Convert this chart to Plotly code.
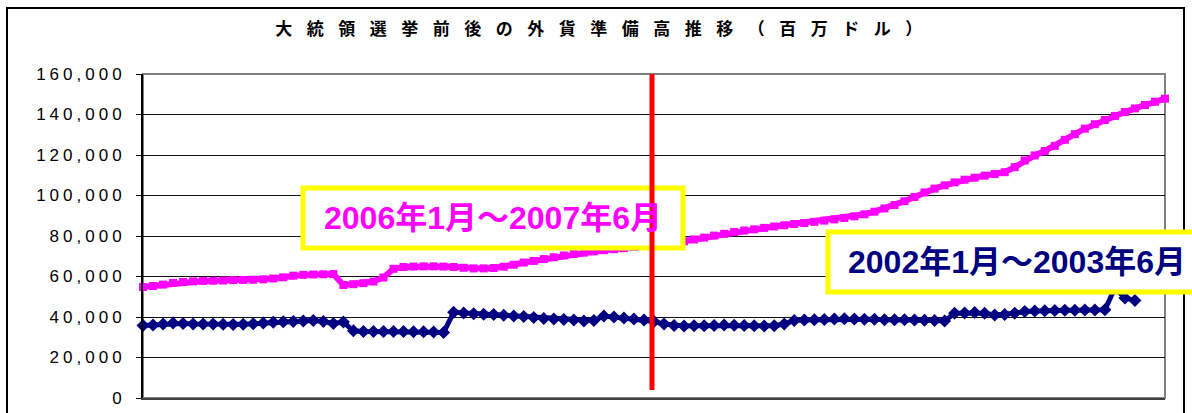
import plotly.graph_objects as go

# ---------------- data ----------------
title_text = "大統領選挙前後の外貨準備高推移（百万ドル）"
label_2006 = "2006年1月～2007年6月"
label_2002 = "2002年1月～2003年6月"

y_tick_values = [0, 20000, 40000, 60000, 80000, 100000, 120000, 140000, 160000]
y_tick_labels = ["0", "20,000", "40,000", "60,000", "80,000", "100,000",
                 "120,000", "140,000", "160,000"]

# 2006/01 - 2007/06 (magenta), millions of USD
reserves_2006_2007 = [
    54800, 55300, 56000, 56800, 57300, 57600, 57800, 57900, 58000, 58200,
    58300, 58400, 58600, 59000, 59600, 60400, 60800, 61000, 61100, 61200,
    55800, 56200, 56700, 57500, 59500, 63800, 64700, 64900, 65000, 65000,
    64900, 64700, 64300, 64000, 64000, 64200, 64800, 65800, 66900, 67700,
    68600, 69500, 70400, 71100, 71800, 72400, 73000, 73500, 74000, 74600,
    75100, 75700, 76200, 76700, 77400, 78300, 79200, 80200, 81100, 82000,
    82700, 83300, 84000, 84700, 85300, 85900, 86400, 87000, 87600, 88200,
    88900, 89700, 90700, 92000, 93600, 95300, 97200, 99300, 101500, 103400,
    105000, 106500, 107800, 108800, 109800, 110600, 111500, 114000, 117300, 119800,
    122000, 124500, 127500, 130300, 133000, 135200, 137300, 139300, 141200, 143000,
    144700, 146300, 147800,
]

# 2002/01 - 2003/06 (navy), millions of USD
reserves_2002_2003 = [
    35800, 36000, 36600, 37000, 36800, 36600, 36500, 36500, 36400, 36300,
    36400, 36700, 37000, 37400, 37600, 37800, 38000, 38300, 37800, 36800,
    37500, 33200, 32900, 32800, 32800, 32800, 32800, 32700, 32700, 32600,
    32300, 42300, 42000, 41600, 41300, 41200, 40900, 40500, 40200, 39800,
    39300, 39000, 38800, 38500, 38000, 38300, 40500, 40000, 39500, 39000,
    38500, 37800, 36500, 35800, 35600, 35700, 35700, 35800, 36000, 35900,
    35800, 35700, 35600, 35700, 36500, 38300, 38500, 38600, 38800, 39000,
    39100, 39000, 38900, 38900, 38700, 38700, 38600, 38500, 38400, 38300,
    38000, 41800, 42000, 42200, 41800, 41000, 41200, 41900, 42700, 43000,
    43100, 43200, 43300, 43300, 43400, 43500, 43600, 54300, 49400, 48200,
]

election_index = 50.8      # position of the election date on the shared time index
red_line_bottom = 4000     # value where the red marker line stops

# ---------------- layout helpers ----------------
W, H = 1192, 413
PL, PR, PT, PB = 143, 1165, 74, 398


def px_x(p):
    return (p - PL) / (PR - PL)


def px_y(p):
    return (PB - p) / (PB - PT)


x_2006 = list(range(len(reserves_2006_2007)))
x_2002 = list(range(len(reserves_2002_2003)))

fig = go.Figure()

fig.add_trace(go.Scatter(
    x=x_2002, y=reserves_2002_2003, mode="lines+markers",
    line=dict(color="#000080", width=5),
    marker=dict(symbol="diamond", size=10, color="#000080"),
    cliponaxis=False, hoverinfo="skip",
))
fig.add_trace(go.Scatter(
    x=x_2006, y=reserves_2006_2007, mode="lines+markers",
    line=dict(color="#FF00FF", width=6),
    marker=dict(symbol="square", size=8, color="#FF00FF"),
    cliponaxis=False, hoverinfo="skip",
))

shapes = [
    # outer chart frame
    dict(type="rect", xref="paper", yref="paper",
         x0=px_x(7), x1=px_x(1184), y0=px_y(440), y1=px_y(8),
         line=dict(color="black", width=2), fillcolor="rgba(0,0,0,0)", layer="below"),
    # plot-area border
    dict(type="rect", xref="paper", yref="paper", x0=0, x1=1, y0=0, y1=1,
         line=dict(color="#808080", width=2), fillcolor="rgba(0,0,0,0)", layer="below"),
    # yellow label boxes
    dict(type="rect", xref="paper", yref="paper",
         x0=px_x(303), x1=px_x(683), y0=px_y(248), y1=px_y(188),
         line=dict(color="#FFFF00", width=5), fillcolor="white", layer="above"),
    dict(type="rect", xref="paper", yref="paper",
         x0=px_x(828), x1=px_x(1210), y0=px_y(292), y1=px_y(232),
         line=dict(color="#FFFF00", width=5), fillcolor="white", layer="above"),
    # election marker
    dict(type="line", xref="x", yref="y",
         x0=election_index, x1=election_index, y0=red_line_bottom, y1=160000,
         line=dict(color="#FF0000", width=5), layer="above"),
]

annotations = [
    dict(text=label_2006, xref="paper", yref="paper", x=px_x(493), y=px_y(218),
         xanchor="center", yanchor="middle", showarrow=False,
         font=dict(family="Liberation Sans, Noto Sans CJK JP", size=32,
                   color="#FF00FF", weight="bold")),
    dict(text=label_2002, xref="paper", yref="paper", x=px_x(1017), y=px_y(262),
         xanchor="center", yanchor="middle", showarrow=False,
         font=dict(family="Liberation Sans, Noto Sans CJK JP", size=32,
                   color="#000080", weight="bold")),
]

fig.update_layout(
    width=W, height=H,
    margin=dict(l=PL, r=W - PR, t=PT, b=H - PB, pad=0, autoexpand=False),
    paper_bgcolor="white", plot_bgcolor="white",
    showlegend=False,
    title=dict(text=title_text, x=(596 + 10) / W, xref="container", xanchor="center",
               y=1 - 29 / H, yref="container", yanchor="middle", automargin=False,
               font=dict(family="Noto Sans CJK JP", size=17, color="black", weight="bold")),
    xaxis=dict(range=[0, len(reserves_2006_2007) - 1], showgrid=False, zeroline=False,
               showticklabels=False, ticks="", showline=True, automargin=False,
               linecolor="#404040", linewidth=2),
    yaxis=dict(range=[0, 160000], tickvals=y_tick_values, ticktext=y_tick_labels,
               showgrid=True, gridcolor="#111111", gridwidth=1, zeroline=False,
               showline=True, linecolor="black", linewidth=2, automargin=False,
               ticks="outside", ticklen=5, tickcolor="black", tickwidth=1,
               ticklabelstandoff=7,
               tickfont=dict(family="Liberation Sans", size=17, color="black")),
    shapes=shapes,
    annotations=annotations,
)

post = """
document.body.style.margin = '0';
document.body.style.padding = '0';
var gd = document.getElementById('{plot_id}');
gd.querySelectorAll('.gtitle').forEach(function(e){ e.style.letterSpacing = '14.5px'; });
gd.querySelectorAll('.ytick text').forEach(function(e){ e.style.letterSpacing = '4px'; });
"""

fig.write_html("out.html", post_script=post, config={"displayModeBar": False})
